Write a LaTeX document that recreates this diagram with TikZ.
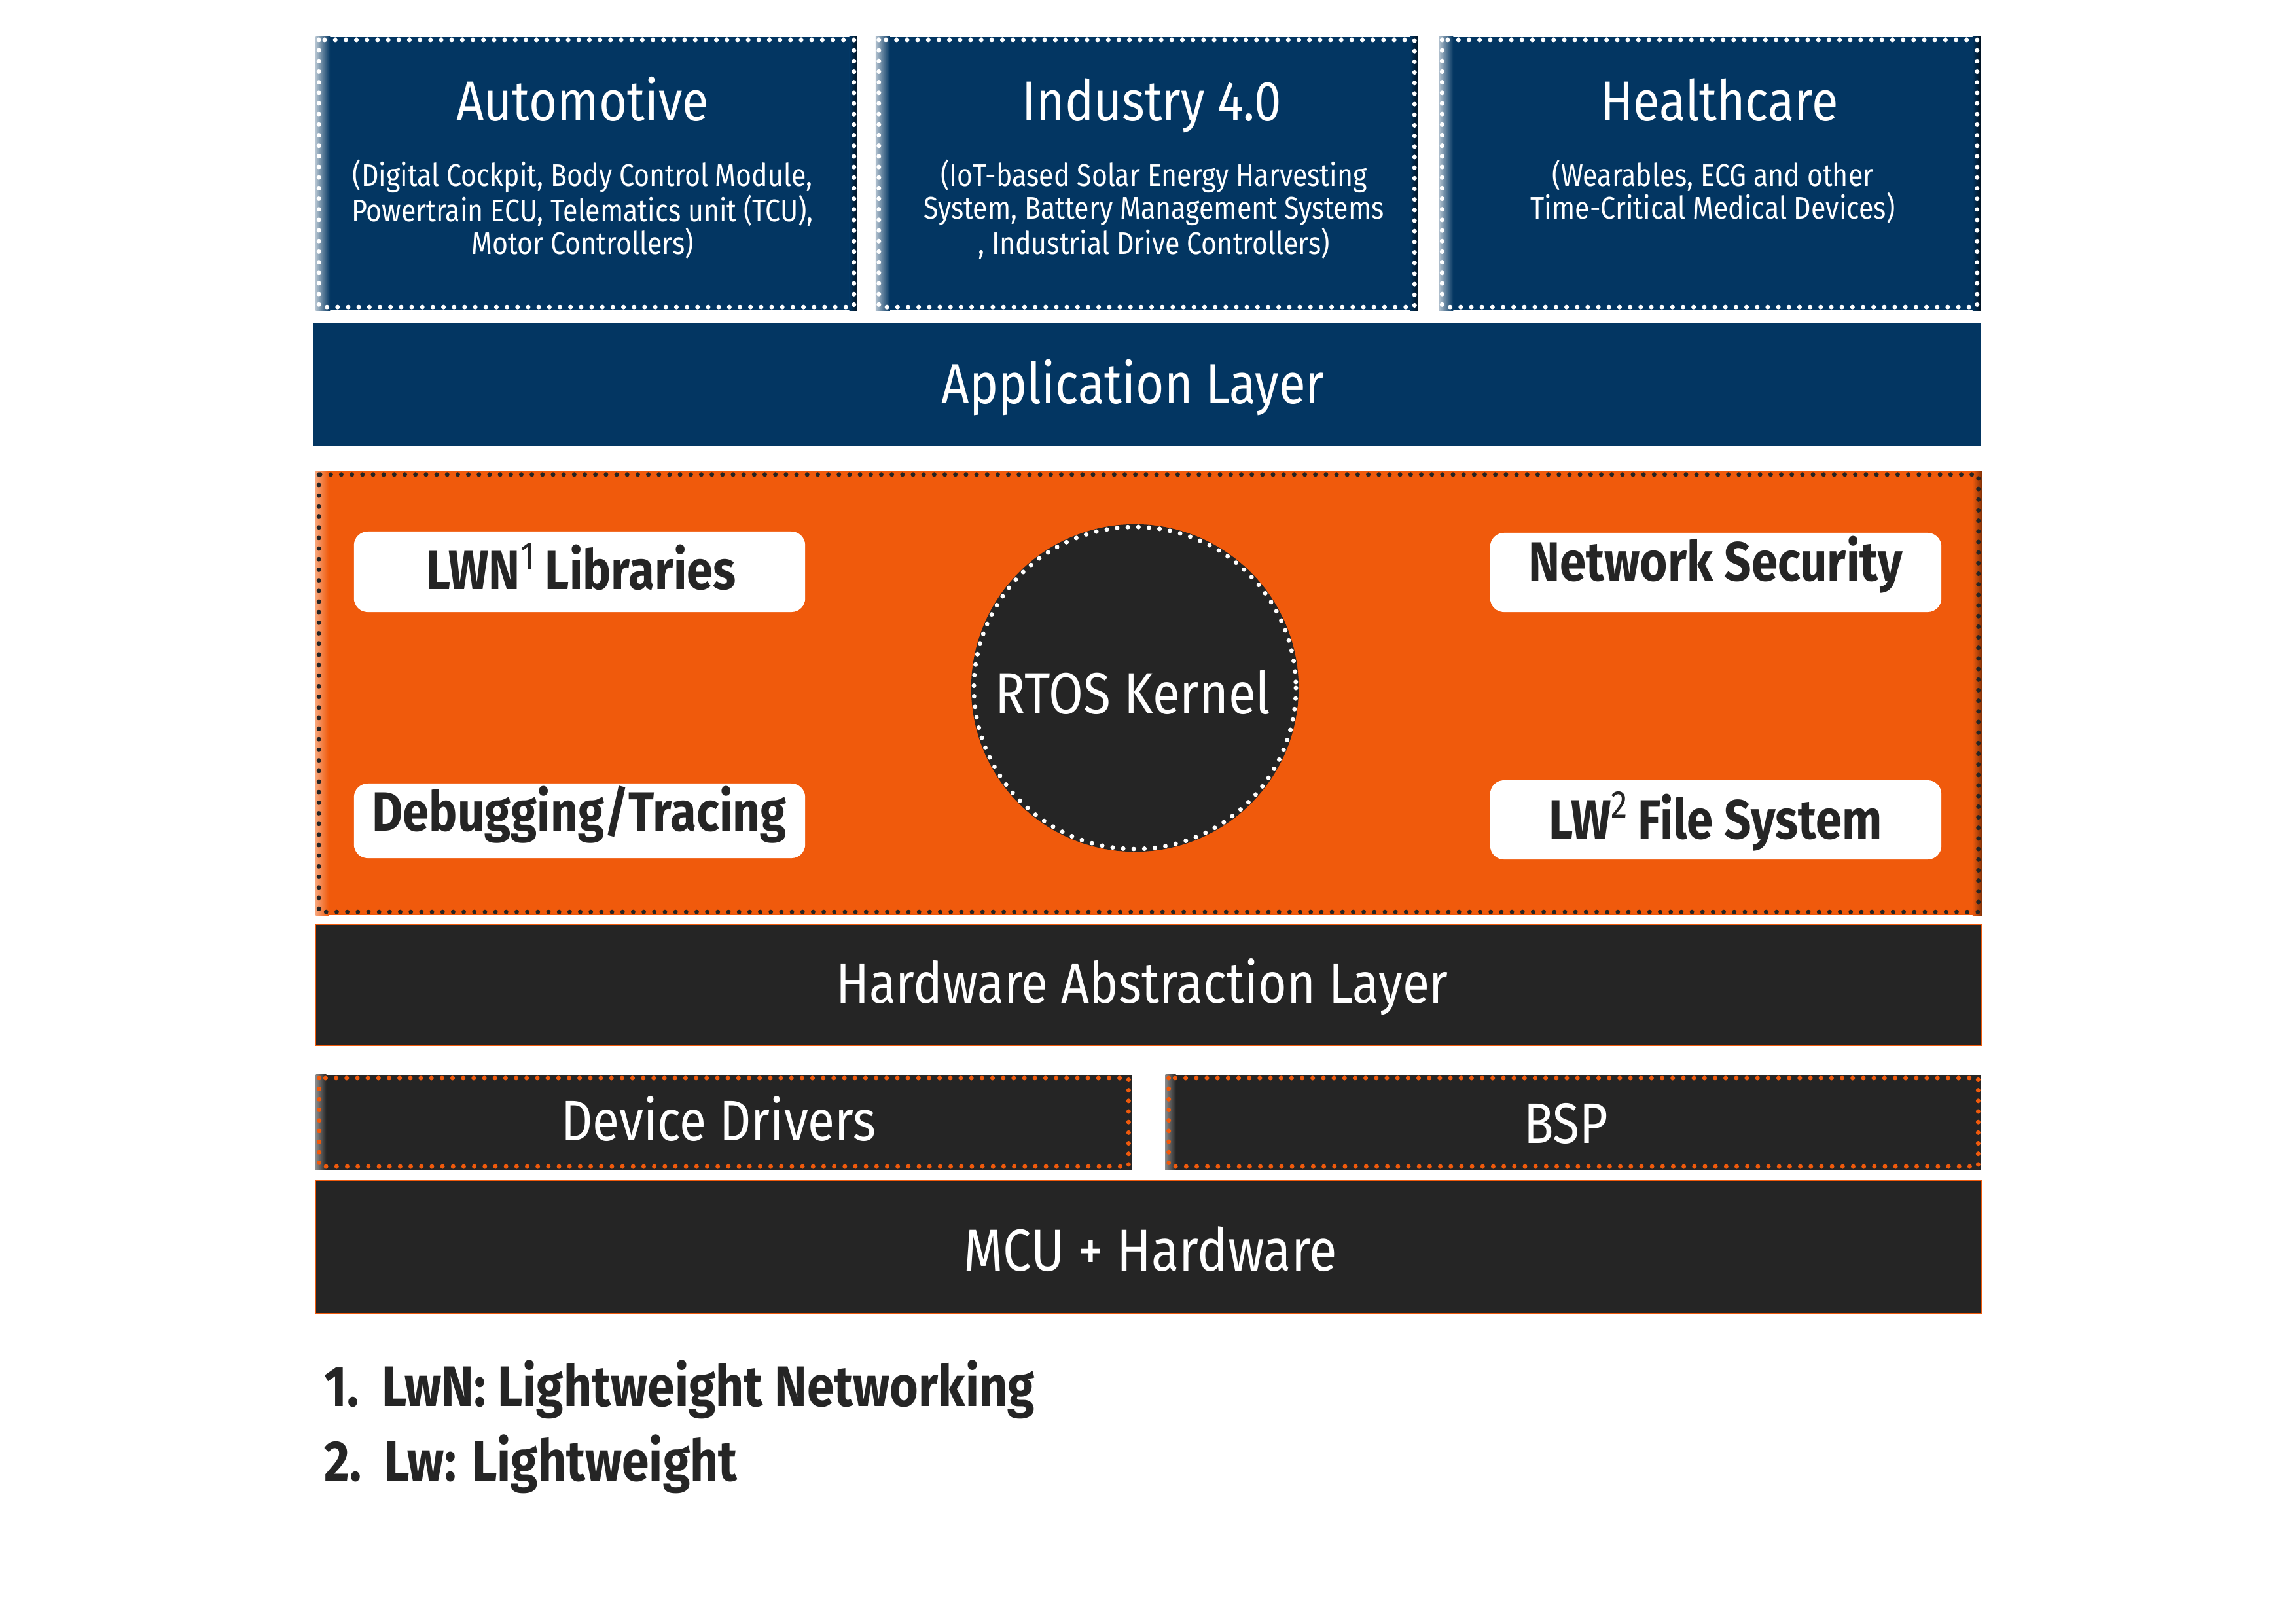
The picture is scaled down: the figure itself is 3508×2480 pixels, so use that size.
\documentclass[tikz,border=0pt]{standalone}
\usepackage{fontspec}
\setmainfont{Fira Sans}[FakeStretch=0.86]
\definecolor{navy}{RGB}{3,54,98}
\definecolor{orng}{RGB}{240,90,12}
\definecolor{dark}{RGB}{37,37,37}
\begin{document}
\begin{tikzpicture}[x=0.01cm,y=-0.01cm,
  box/.style={rectangle, inner sep=0pt, outer sep=0pt},
  dotb/.style={line width=2pt, dash pattern=on 0pt off 4.6pt, line cap=round},
  topbox/.style={box, fill=navy, minimum width=8.27cm, minimum height=4.18cm},
  whitebox/.style={box, fill=white, rounded corners=6pt, minimum width=6.89cm, minimum height=1.2cm},
  titlefont/.style={font=\fontsize{24.5pt}{29pt}\selectfont, text=white},
  subfont/.style={font=\fontsize{13.6pt}{14pt}\selectfont, text=white, align=center},
  bigw/.style={font=\fontsize{24.8pt}{30pt}\selectfont, text=white},
  bigd/.style={font=\bfseries\fontsize{24pt}{29pt}\selectfont, text=dark},
  foot/.style={font=\bfseries\fontsize{24.8pt}{29pt}\selectfont, text=dark},
]
\useasboundingbox (0,0) rectangle (3508,2480);
% top boxes
\node[topbox] (auto) at (896,265) {};
\node[topbox, minimum width=8.28cm] (ind) at (1752,265) {};
\node[topbox] (health) at (2612,265) {};
\foreach \n in {auto,ind,health}{
  \shade[left color=white!70!navy, right color=navy] (\n.north west) rectangle ([xshift=0.22cm]\n.south west);
  \shade[left color=navy, right color=black!65!navy] ([xshift=-0.12cm]\n.north east) rectangle (\n.south east);
  \draw[white, dotb] ([shift={(5,5)}]\n.north west) rectangle ([shift={(-5,-5)}]\n.south east);
}
\node[titlefont, anchor=base] (autot) at (890,184) {Automotive};
\node[titlefont, anchor=base] (indt) at (1760,184) {Industry 4.0};
\node[titlefont, anchor=base] (healtht) at (2627,184) {Healthcare};
\node[subfont, anchor=north] (autos) at (890,232) {(Digital Cockpit, Body Control Module,\\Powertrain ECU, Telematics unit (TCU),\\Motor Controllers)};
\node[subfont, anchor=north] (inds) at (1763,232) {(IoT-based Solar Energy Harvesting\\System, Battery Management Systems\\, Industrial Drive Controllers)};
\node[subfont, anchor=north] (healths) at (2617,232) {(Wearables, ECG and other\\Time-Critical Medical Devices)};
% application layer
\node[box, fill=navy, minimum width=25.46cm, minimum height=1.88cm] (app) at (1752,588) {};
\node[titlefont, font=\fontsize{24.6pt}{30pt}\selectfont] (appt) at (1731,592) {Application Layer};
% orange middleware
\node[box, fill=orng, minimum width=25.44cm, minimum height=6.78cm] (mid) at (1755,1059) {};
\shade[left color=white!45!orng, right color=orng] (mid.north west) rectangle ([xshift=0.2cm]mid.south west);
\shade[left color=orng, right color=black!45!orng] ([xshift=-0.14cm]mid.north east) rectangle (mid.south east);
\draw[dark, dotb] ([shift={(5,5)}]mid.north west) rectangle ([shift={(-5,-5)}]mid.south east);
\node[whitebox, minimum height=1.23cm] (lwn) at (885.5,873.5) {};
\node[bigd] (lwnt) at (888,866) {LWN\textsuperscript{\mdseries 1}\,Libraries};
\node[whitebox, minimum height=1.14cm] (dbg) at (885.5,1254) {};
\node[bigd] (dbgt) at (885,1244) {Debugging/Tracing};
\node[whitebox, minimum height=1.21cm] (net) at (2621.5,874.5) {};
\node[bigd] (nett) at (2621,863) {Network Security};
\node[whitebox, minimum height=1.21cm] (lw2) at (2621.5,1252.5) {};
\node[bigd] (lw2t) at (2621,1255) {LW\textsuperscript{\mdseries 2}\,File System};
\node[circle, inner sep=0pt, fill=dark, minimum size=5.0cm] (rtos) at (1734,1051) {};
\draw[white, dotb] (rtos.center) circle[radius=246];
\node[bigw, font=\fontsize{25.3pt}{30pt}\selectfont] (rtost) at (1731,1058) {RTOS Kernel};
% lower layers
\node[box, fill=dark, draw=orng, line width=0.6pt, minimum width=25.44cm, minimum height=1.85cm] (hal) at (1755,1504.5) {};
\node[bigw] (halt) at (1745,1508) {Hardware Abstraction Layer};
\node[box, fill=dark, minimum width=12.46cm, minimum height=1.45cm] (dd) at (1106,1714.5) {};
\node[box, fill=dark, minimum width=12.46cm, minimum height=1.45cm] (bsp) at (2404,1714.5) {};
\foreach \n in {dd,bsp}{
  \shade[left color=white!45!dark, right color=dark] (\n.north west) rectangle ([xshift=0.16cm]\n.south west);
  \draw[orng, dotb] ([shift={(5,5)}]\n.north west) rectangle ([shift={(-5,-5)}]\n.south east);
}
\node[bigw] (ddt) at (1098,1709) {Device Drivers};
\node[bigw] (bspt) at (2393,1716) {BSP};
\node[box, fill=dark, draw=orng, line width=0.6pt, minimum width=25.44cm, minimum height=2.04cm] (mcu) at (1755,1905) {};
\node[bigw, font=\fontsize{25.7pt}{30pt}\selectfont] (mcut) at (1758,1908) {MCU + Hardware};
% footnotes
\node[foot, anchor=base west] (fn1) at (483,2148) {1.\ \ LwN: Lightweight Networking};
\node[foot, anchor=base west] (fn2) at (483,2262) {2.\ \ Lw: Lightweight};
\end{tikzpicture}
\end{document}
